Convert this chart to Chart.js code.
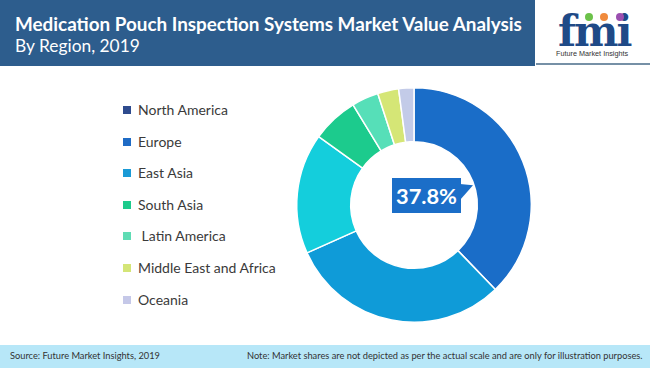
<!DOCTYPE html>
<html>
<head>
<meta charset="utf-8">
<script src="https://cdn.jsdelivr.net/npm/chart.js@4/dist/chart.umd.min.js"></script>
<style>
  html, body { margin:0; padding:0; width:650px; height:368px; overflow:hidden; background:#fff; font-family: Lato, "Open Sans", sans-serif; }
  #header { position:absolute; left:0; top:0; width:535px; height:66px; background:#2d5d8d; }
  #title { position:absolute; left:15px; top:12px; color:#fff; font-weight:700; font-size:19px; white-space:nowrap; }
  #subtitle { position:absolute; left:15px; top:35px; color:#fff; font-size:18px; white-space:nowrap; }
  #logoLine { position:absolute; left:536px; top:63px; width:114px; height:2px; background:#7690a6; }
  #logo { position:absolute; left:556px; top:6px; width:80px; height:56px; }
  #fmi { position:absolute; left:2px; top:1px; font-family:"DejaVu Serif", serif; font-weight:700; font-size:42px; color:#1f4a87; letter-spacing:-2px; }
  .dot { position:absolute; width:8px; height:8px; border-radius:50%; }
  #logoText { position:absolute; left:0px; top:43px; font-family:"Liberation Sans", sans-serif; font-size:7.2px; color:#333; white-space:nowrap; }
  #chartBox { position:absolute; left:290px; top:81px; width:248px; height:248px; }
  #legend { position:absolute; left:123px; top:101px; }
  .li { position:absolute; left:0; white-space:nowrap; font-size:14px; color:#3a3a3a; }
  .sw { position:absolute; left:0; top:5px; width:8px; height:8px; }
  .lt { position:absolute; left:15px; top:0; }
  #center { position:absolute; left:392px; top:178px; width:69px; height:35px; background:#1b6ec8; }
  #centerText { position:absolute; left:4px; top:0; color:#fff; font-family:Lato, sans-serif; font-weight:700; font-size:25px; line-height:35px; white-space:nowrap; }
  #ptr { position:absolute; left:460px; top:184px; width:0; height:0; border-top:4px solid transparent; border-left:13px solid #1b6ec8; border-bottom:12px solid transparent; transform:skewY(-12deg); transform-origin:0 0; }
  #footer { position:absolute; left:0; top:345px; width:650px; height:23px; background:#b7e7f8; }
  #src { position:absolute; left:10px; top:5px; font-size:10px; color:#333; white-space:nowrap; }
  #note { position:absolute; left:247px; top:5px; font-size:10px; color:#333; white-space:nowrap; }
</style>
</head>
<body>
<div id="header">
  <div id="title">Medication Pouch Inspection Systems Market Value Analysis</div>
  <div id="subtitle">By Region, 2019</div>
</div>
<div id="logoLine"></div>
<div id="logo">
  <div id="fmi">fmi</div>
  <div class="dot" style="left:29px;top:7px;background:#6cc24a"></div>
  <div class="dot" style="left:44px;top:7px;background:#f08a3c"></div>
  <div class="dot" style="left:60px;top:7px;background:#9b4fb0"></div>
  <div id="logoText">Future Market Insights</div>
</div>
<div id="legend"></div>
<div id="chartBox"><canvas id="c"></canvas></div>
<div id="center"><div id="centerText">37.8%</div></div>
<div id="ptr"></div>
<div id="footer">
  <div id="src">Source: Future Market Insights, 2019</div>
  <div id="note">Note: Market shares are not depicted as per the actual scale and are only for illustration purposes.</div>
</div>
<script>
const categories = ["North America", "Europe", "East Asia", "South Asia", " Latin America", "Middle East and Africa", "Oceania"];
const shares = [37.8, 30.5, 16.6, 6.4, 3.7, 2.9, 2.1];
const sliceColors = ["#1a6dc8", "#0f9bd8", "#14cedc", "#1ccb8d", "#56dfb8", "#d5e676", "#c3cbe8"];
const legendColors = ["#2e4b8e", "#1f6bc5", "#1a9ad6", "#1dcb8c", "#5fdcb4", "#d4e577", "#c5c8e8"];

function fitWidth(id, target) {
  const el = document.getElementById(id);
  const fs = parseFloat(getComputedStyle(el).fontSize);
  const w = el.getBoundingClientRect().width;
  if (w > 0) el.style.fontSize = (fs * target / w).toFixed(2) + 'px';
}
fitWidth('title', 507);
fitWidth('subtitle', 125);
fitWidth('src', 150);
fitWidth('note', 396);
fitWidth('centerText', 61);
fitWidth('logoText', 72);

const legend = document.getElementById('legend');
categories.forEach((name, i) => {
  const li = document.createElement('div');
  li.className = 'li';
  li.style.top = (i * 31.6) + 'px';
  li.innerHTML = '<div class="sw" style="background:' + legendColors[i] + '"></div><div class="lt">' + name.replace(/^ /, '&nbsp;') + '</div>';
  legend.appendChild(li);
});

new Chart(document.getElementById('c'), {
  type: 'doughnut',
  data: {
    labels: categories,
    datasets: [{
      data: shares,
      backgroundColor: sliceColors,
      borderColor: '#ffffff',
      borderWidth: 1.5
    }]
  },
  options: {
    responsive: true,
    maintainAspectRatio: false,
    animation: false,
    cutout: '54%',
    layout: { padding: 6 },
    plugins: { legend: { display: false }, tooltip: { enabled: false } }
  }
});
</script>
</body>
</html>
